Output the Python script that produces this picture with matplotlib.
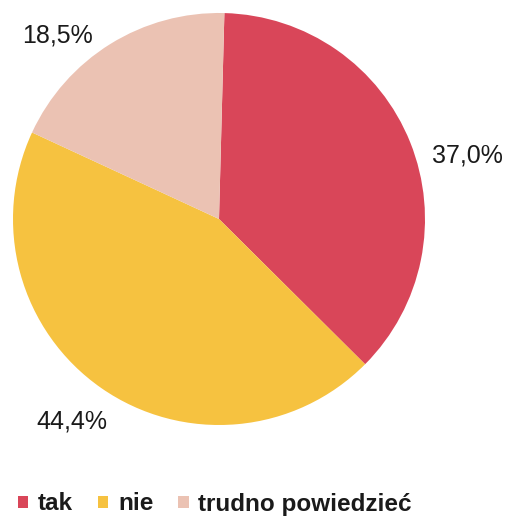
import matplotlib
matplotlib.use("Agg")
import matplotlib.pyplot as plt
from matplotlib.patches import Patch

categories = ["tak", "nie", "trudno powiedzieć"]
values = [37.0, 44.4, 18.5]
labels = ["37,0%", "44,4%", "18,5%"]
colors = ["#D94659", "#F6C240", "#EBC2B3"]

W, H = 506, 524
fig = plt.figure(figsize=(W / 100, H / 100), dpi=100)
ax = fig.add_axes([0, 0, 1, 1])

cx, cy, r = 219, H - 219, 206
ax.pie(values, colors=colors, startangle=88.5, counterclock=False,
       center=(cx, cy), radius=r, frame=True,
       wedgeprops=dict(linewidth=0))
ax.set_xlim(0, W)
ax.set_ylim(0, H)
ax.set_aspect("equal")
ax.axis("off")

label_pos = [(467, H - 163), (72, H - 428), (58, H - 42)]
for (x, y), t in zip(label_pos, labels):
    ax.text(x, y, t, ha="center", va="baseline", fontsize=18,
            family="Liberation Sans", color="#1a1a1a")

handles = [Patch(facecolor=c, edgecolor="none") for c in colors]
leg = fig.legend(handles, categories, loc="center left", ncol=3,
                 bbox_to_anchor=(18 / W, 1 - 504 / H), frameon=False,
                 prop=dict(family="Liberation Sans", size=17.5, weight="bold"),
                 handlelength=0.42, handleheight=0.42, handletextpad=0.4,
                 columnspacing=1.03, borderaxespad=0, borderpad=0)
for t in leg.get_texts():
    t.set_color("#1a1a1a")

fig.savefig("out.png", dpi=100)
